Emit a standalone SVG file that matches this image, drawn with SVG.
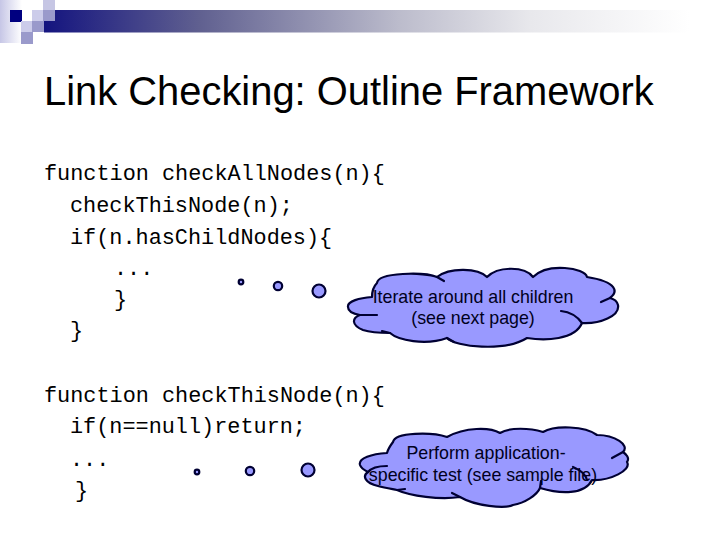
<svg xmlns="http://www.w3.org/2000/svg" width="720" height="540" viewBox="0 0 720 540">
<style>
.code{font-family:"Liberation Mono","Courier New",monospace;font-size:21.85px;fill:#000}
.title{font-family:"Liberation Sans",Arial,sans-serif;font-size:39.900px;fill:#000}
.note{font-family:"Liberation Sans",Arial,sans-serif;font-size:17.800px;fill:#000020;text-anchor:middle}
.cloud,.bub{fill:#9999ff;stroke:#000033;stroke-width:2.2px;stroke-linejoin:round;stroke-linecap:round}
.tick{fill:none;stroke:#000033;stroke-width:2.2px;stroke-linecap:round}
</style>
<defs>
<linearGradient id="bar" x1="0" x2="1" y1="0" y2="0"><stop offset="0" stop-color="#14147f"/><stop offset=".23" stop-color="#606090"/><stop offset=".526" stop-color="#bcbccc"/><stop offset=".72" stop-color="#e8e8ec"/><stop offset=".955" stop-color="#fff"/></linearGradient>
<linearGradient id="side" x1="0" x2="1" y1="0" y2="0"><stop offset="0" stop-color="#c6c6e6"/><stop offset="1" stop-color="#fff"/></linearGradient>
</defs>
<rect width="720" height="540" fill="#fff"/>
<g id="header">
<rect x="0" y="0" width="22" height="43" fill="url(#side)"/>
<rect x="44" y="10" width="676" height="22.500" fill="url(#bar)"/>
<rect x="10" y="10" width="12" height="12" fill="#000080"/>
<rect x="32" y="10" width="12" height="11" fill="#ccccea"/>
<rect x="43" y="0" width="12" height="10" fill="#c6c6e4"/>
<rect x="43" y="10" width="12" height="11" fill="#9a9acb"/>
<rect x="21" y="21" width="11" height="11" fill="#ccccea"/>
<rect x="32" y="21" width="12" height="11" fill="#9a9acb"/>
<rect x="21" y="32" width="12" height="12" fill="#9a9acb"/>
</g>
<text class="title" x="44" y="105">Link Checking: Outline Framework</text>
<g id="code">
<text class="code" x="44" y="180">function checkAllNodes(n){</text>
<text class="code" x="70" y="212">checkThisNode(n);</text>
<text class="code" x="70" y="244">if(n.hasChildNodes){</text>
<text class="code" x="114" y="275">...</text>
<text class="code" x="114" y="306">}</text>
<text class="code" x="70" y="337">}</text>
<text class="code" x="44" y="402">function checkThisNode(n){</text>
<text class="code" x="70" y="433">if(n==null)return;</text>
<text class="code" x="70" y="466">...</text>
<text class="code" x="75" y="497">}</text>
</g>
<g id="callout-1">
<circle class="bub" cx="241" cy="282" r="2.300"/>
<circle class="bub" cx="278" cy="286" r="4.200"/>
<circle class="bub" cx="319" cy="291" r="6.500"/>
<path class="cloud" d="M372 297C360 298 347 301 348 307C348 312 354 314 360 315C352 318 351 325 363 330C372 333 382 333 390 333C398 340 425 346 447 338C455 347 505 352 527 338C545 341 575 340 582 323C600 324 620 316 618 305C617 301 614 299 610 298C618 292 618 282 587 277C585 268 548 262 533 277C525 266 498 266 487 277C478 268 450 267 437 277C425 272 378 272 377 283C373 287 372 292 372 297Z"/>
<path class="tick" d="M360 315H377M390 333L382 331M447 338L454 342M437 277L444 281M610 298L601 302M582 323C577 316 570 312 561 311"/>
<text class="note" x="473" y="303">Iterate around all children</text>
<text class="note" x="473" y="324">(see next page)</text>
</g>
<g id="callout-2">
<circle class="bub" cx="197" cy="472" r="2.300"/>
<circle class="bub" cx="250" cy="471" r="4.200"/>
<circle class="bub" cx="308" cy="470" r="6.500"/>
<path class="cloud" d="M387 453C372 454 358 458 360 465C361 468 364 470 368 472C362 476 365 483 378 486C385 488 392 489 397 490C410 496 440 500 460 497C475 506 505 509 513 505C525 503 537 495 540 488C560 494 585 495 592 480C610 481 632 470 627 462C630 458 626 454 623 452C630 445 615 435 597 435C585 426 555 425 543 432C530 428 510 427 500 433C490 427 465 427 447 437C432 432 395 432 393 442C390 446 388 449 387 453Z"/>
<path class="tick" d="M368 472C372 467 378 466 387 466M397 490L405 489M460 497L452 493M540 488L541 481M623 452L612 458M587 480C586 475 580 470 573 467"/>
<text class="note" x="486" y="459">Perform application-</text>
<text class="note" x="483" y="481">specific test (see sample file)</text>
</g>
</svg>
